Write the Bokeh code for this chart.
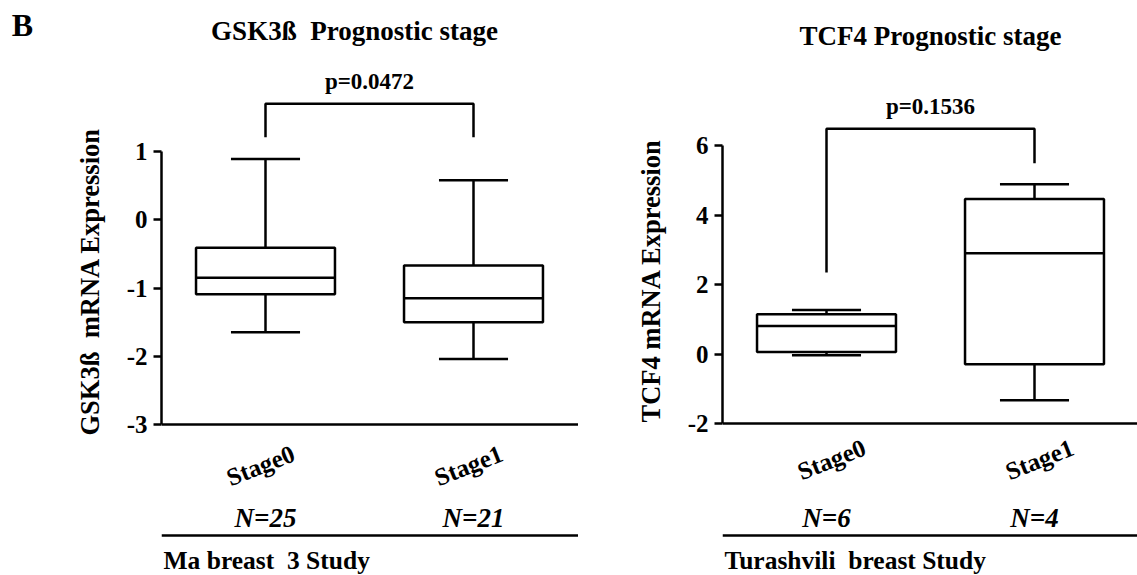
import math
import numpy as np
from bokeh.plotting import figure
from bokeh.layouts import row
from bokeh.models import Range1d, FixedTicker, Label, Arrow, Title
from bokeh.embed import file_html
from bokeh.resources import INLINE

# ---------------- data ----------------
stages = ["Stage0", "Stage1"]

gsk_lower = [-1.65, -2.04]
gsk_q1 = [-1.09, -1.50]
gsk_median = [-0.85, -1.15]
gsk_q3 = [-0.41, -0.67]
gsk_upper = [0.89, 0.58]
gsk_n = [25, 21]
gsk_p = "p=0.0472"
gsk_bracket = [1.70, 1.21, 1.21]   # top, left-leg end, right-leg end
gsk_yticks = [-3, -2, -1, 0, 1]

tcf_lower = [-0.03, -1.33]
tcf_q1 = [0.06, -0.29]
tcf_median = [0.81, 2.91]
tcf_q3 = [1.15, 4.47]
tcf_upper = [1.27, 4.90]
tcf_n = [6, 4]
tcf_p = "p=0.1536"
tcf_bracket = [6.50, 2.35, 5.50]
tcf_yticks = [-2, 0, 2, 4, 6]

NB = "\u00a0"  # keeps the wide word gaps of the original labels

# ---------------- layout constants ----------------
FONT = "Liberation Serif"
W, H = 1137, 575
PX_X = 208.0       # pixels per category step
BOX_HALF = 0.334
CAP_HALF = 0.166
LW = 2.5
FRAME_TOP = 10
B_W = 45


def style_common(p):
    p.outline_line_color = None
    p.xgrid.visible = False
    p.ygrid.visible = False
    p.background_fill_color = "white"
    p.border_fill_color = "white"


def panel(fig_x, fig_w, axis_x, axis_y, cat0_x, px_unit,
          yticks, lower, q1, med, q3, upper, bracket, ptext, ns,
          title, title_xy, ylabel, ylabel_bottom, study, stage_y, label_dx=0):
    y_min = min(yticks)
    frame_w = fig_x + fig_w - axis_x
    x_start = (axis_x - cat0_x) / PX_X
    x_end = x_start + frame_w / PX_X
    y_start = y_min - (H - axis_y) / px_unit
    y_end = y_min + (axis_y - FRAME_TOP) / px_unit

    p = figure(width=fig_w, height=H,
               x_range=Range1d(x_start, x_end), y_range=Range1d(y_start, y_end),
               x_axis_location="above",
               output_backend="svg", toolbar_location=None,
               min_border_left=axis_x - fig_x, min_border_right=0,
               min_border_top=FRAME_TOP, min_border_bottom=0)
    style_common(p)

    def X(px):
        return (px - cat0_x) / PX_X

    def Y(py):
        return y_min + (axis_y - py) / px_unit

    # y axis
    ya = p.yaxis[0]
    ya.ticker = FixedTicker(ticks=yticks)
    ya.major_label_overrides = {t: str(t) for t in yticks}
    ya.bounds = (min(yticks), max(yticks))
    ya.axis_line_width = LW
    ya.axis_line_color = "black"
    ya.major_tick_line_width = LW
    ya.major_tick_line_color = "black"
    ya.major_tick_out = 8
    ya.major_tick_in = 0
    ya.minor_tick_line_color = None
    ya.major_label_standoff = 6
    ya.major_label_text_font = FONT
    ya.major_label_text_font_style = "bold"
    ya.major_label_text_font_size = "25px"
    ya.major_label_text_color = "black"

    # y-axis title, placed along the labelled part of the axis
    p.add_layout(Title(text=ylabel, align="left", offset=H - ylabel_bottom,
                       text_font=FONT, text_font_style="bold", text_font_size="26.5px",
                       text_color="black", standoff=38), "left")

    # x axis (baseline drawn at the lowest y tick)
    xa = p.xaxis[0]
    xa.ticker = FixedTicker(ticks=[])
    xa.fixed_location = y_min
    xa.axis_line_width = LW
    xa.axis_line_color = "black"
    xa.major_tick_line_color = None
    xa.minor_tick_line_color = None
    xa.major_tick_out = 0
    xa.major_tick_in = 0
    xa.major_label_standoff = 0

    x = np.arange(len(stages))
    q1 = np.array(q1)
    q3 = np.array(q3)
    # whiskers and caps
    p.segment(x0=x, y0=q3, x1=x, y1=upper, line_color="black", line_width=LW)
    p.segment(x0=x, y0=q1, x1=x, y1=lower, line_color="black", line_width=LW)
    p.segment(x0=x - CAP_HALF, y0=upper, x1=x + CAP_HALF, y1=upper, line_color="black", line_width=LW)
    p.segment(x0=x - CAP_HALF, y0=lower, x1=x + CAP_HALF, y1=lower, line_color="black", line_width=LW)
    # boxes and medians
    p.quad(left=x - BOX_HALF, right=x + BOX_HALF, bottom=q1, top=q3,
           fill_color="white", line_color="black", line_width=LW)
    p.segment(x0=x - BOX_HALF, y0=med, x1=x + BOX_HALF, y1=med, line_color="black", line_width=LW)

    # significance bracket
    top, lend, rend = bracket
    p.line(x=[x[0], x[0], x[-1], x[-1]], y=[lend, top, top, rend], line_color="black", line_width=LW)
    p.add_layout(Label(x=(x[0] + x[-1]) / 2, y=top, y_offset=22, text=ptext,
                       text_align="center", text_baseline="middle", text_font=FONT,
                       text_font_style="bold", text_font_size="23px", text_color="black"))

    # panel title
    p.add_layout(Label(x=X(title_xy[0]), y=Y(title_xy[1]), text=title, text_align="center",
                       text_baseline="middle", text_font=FONT, text_font_style="bold",
                       text_font_size="27px", text_color="black"))
    # category labels and group sizes
    for i, (s, n) in enumerate(zip(stages, ns)):
        p.add_layout(Label(x=x[i], y=Y(stage_y), x_offset=label_dx, text=s, angle=0.38,
                           text_align="center", text_baseline="middle", text_font=FONT,
                           text_font_style="bold", text_font_size="25px", text_color="black"))
        p.add_layout(Label(x=x[i], y=Y(517), text=f"N={n}", text_align="center",
                           text_baseline="middle", text_font=FONT,
                           text_font_style="bold italic", text_font_size="27px",
                           text_color="black"))
    # rule under N
    p.add_layout(Arrow(end=None, x_start=x_start, y_start=Y(535),
                       x_end=x_end, y_end=Y(535), line_width=LW, line_color="black"))
    # study name
    p.add_layout(Label(x=X(axis_x + 2), y=Y(560), text=study, text_align="left",
                       text_baseline="middle", text_font=FONT, text_font_style="bold",
                       text_font_size="25.5px", text_color="black"))
    return p


# panel letter (frame aligned with the panels' frames)
bfig = figure(width=B_W, height=H, x_range=Range1d(0, B_W), y_range=Range1d(0, H - FRAME_TOP),
              x_axis_type=None, y_axis_type=None, min_border=0, min_border_top=FRAME_TOP,
              title=None, output_backend="svg", toolbar_location=None)
style_common(bfig)
bfig.add_layout(Label(x=22, y=H - 24, text="B", text_align="center", text_baseline="middle",
                      text_font=FONT, text_font_style="bold", text_font_size="32px",
                      text_color="black"))

left = panel(fig_x=B_W, fig_w=578 - B_W, axis_x=161, axis_y=424, cat0_x=265, px_unit=68.25,
             yticks=gsk_yticks, lower=gsk_lower, q1=gsk_q1, med=gsk_median, q3=gsk_q3,
             upper=gsk_upper, bracket=gsk_bracket, ptext=gsk_p, ns=gsk_n,
             title="GSK3ß" + NB + " Prognostic stage", title_xy=(354, 30),
             ylabel="GSK3ß" + NB + " mRNA Expression", ylabel_bottom=435,
             study="Ma breast" + NB + " 3 Study", stage_y=465, label_dx=-5)

right = panel(fig_x=578, fig_w=W - 578, axis_x=722, axis_y=423, cat0_x=826, px_unit=34.69,
              yticks=tcf_yticks, lower=tcf_lower, q1=tcf_q1, med=tcf_median, q3=tcf_q3,
              upper=tcf_upper, bracket=tcf_bracket, ptext=tcf_p, ns=tcf_n,
              title="TCF4 Prognostic stage", title_xy=(930, 35),
              ylabel="TCF4 mRNA Expression", ylabel_bottom=422,
              study="Turashvili" + NB + " breast Study", stage_y=459, label_dx=5)

layout = row(bfig, left, right, spacing=0)
open("out.html", "w").write(file_html(layout, INLINE))
